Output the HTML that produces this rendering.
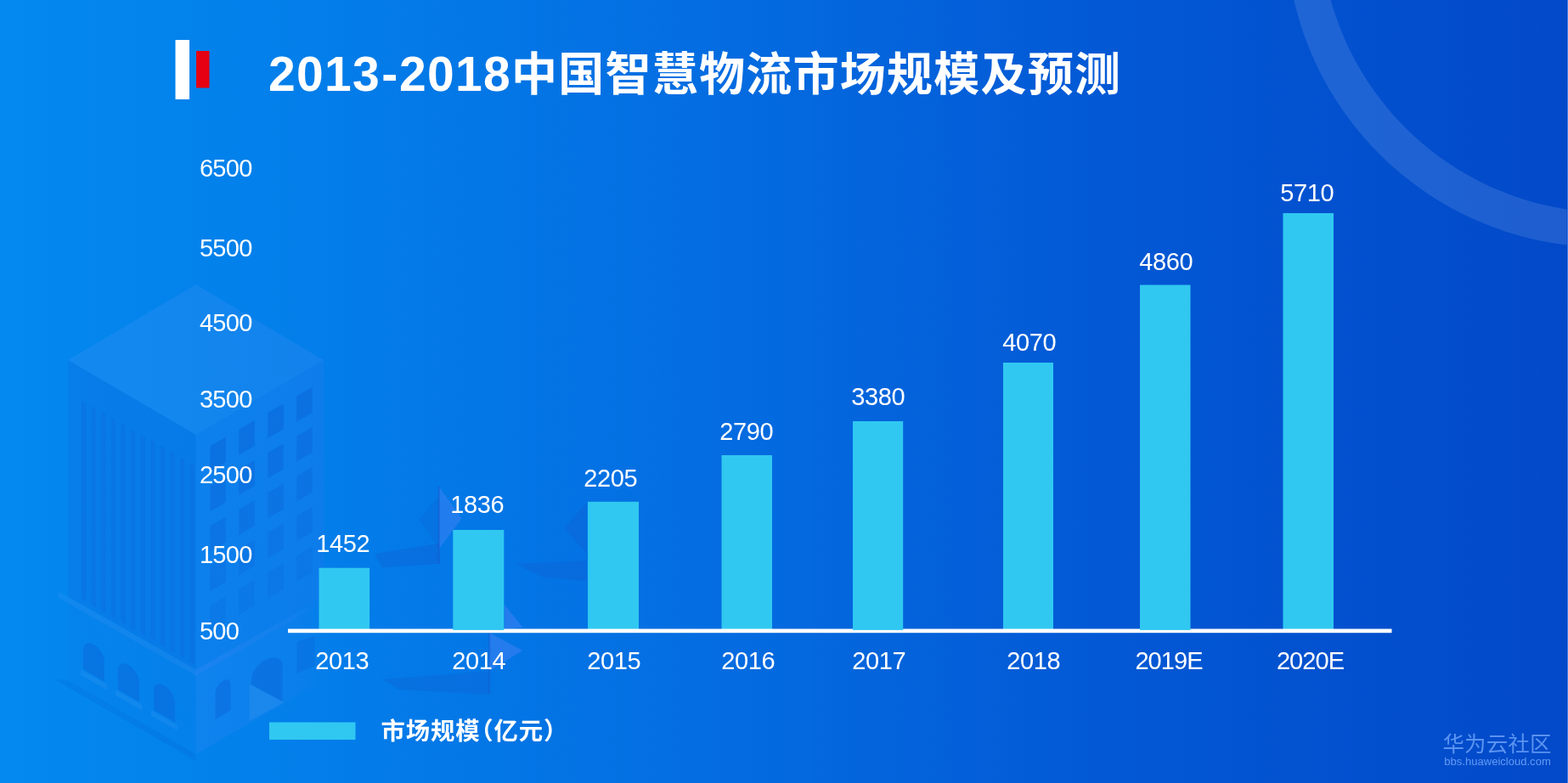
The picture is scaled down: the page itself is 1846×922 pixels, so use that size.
<!DOCTYPE html>
<html lang="zh-CN">
<head>
<meta charset="utf-8">
<title>2013-2018中国智慧物流市场规模及预测</title>
<style>
html,body{margin:0;padding:0;background:#0451cf;}
body{width:1846px;height:922px;overflow:hidden;}
#stage{position:relative;width:1846px;height:922px;overflow:hidden;
  background:linear-gradient(90deg,#0389ef 0%,#037eea 20%,#046de1 45%,#0359d5 70%,#0249c9 100%);
  font-family:"Liberation Sans","Noto Sans CJK SC",sans-serif;color:#fff;}
#art{position:absolute;left:0;top:0;width:1846px;height:922px;}
.t{position:absolute;white-space:nowrap;line-height:1;margin:0;}
.ttl{left:316.1px;top:60.6px;font-size:54px;font-weight:700;letter-spacing:1.25px;}
.ttl .n{font-size:57px;letter-spacing:1.3px;line-height:0;}
.ttl .h{font-size:57px;letter-spacing:0;line-height:0;margin-left:1.2px;margin-right:1.6px;}
.yl{left:234.9px;font-size:29px;letter-spacing:-0.7px;margin-top:0.4px;}
.vl{font-size:29px;width:80px;text-align:center;letter-spacing:-0.4px;text-indent:-0.4px;margin-top:0.4px;}
.xl{font-size:29px;width:100px;text-align:center;letter-spacing:-0.35px;text-indent:-0.35px;margin-top:0.4px;}
.xl.e{letter-spacing:-0.9px;text-indent:-0.9px;}
.lg{left:448.5px;top:846.8px;font-size:28.4px;font-weight:700;letter-spacing:0.85px;}
.lg .p{font-feature-settings:"halt" 1;}
.wm1{left:1698.4px;top:863.8px;font-size:25.5px;font-weight:400;letter-spacing:0.15px;color:rgba(125,175,255,.72);}
.wm2{left:1700.3px;top:890.4px;font-size:13.05px;color:rgba(125,175,255,.78);}
</style>
</head>
<body>
<div id="stage">
<svg id="art" viewBox="0 0 1846 922" width="1846" height="922">
<defs>
    <linearGradient id="tr" x1="0" y1="0" x2="0" y2="1"><stop offset="0" stop-color="#7078f8" stop-opacity="0.10"/><stop offset="1" stop-color="#6068f0" stop-opacity="0.09"/></linearGradient>
    <linearGradient id="pl" x1="0" y1="0" x2="0" y2="1"><stop offset="0" stop-color="#2a50d0" stop-opacity="0.06"/><stop offset="0.6" stop-color="#2a50d0" stop-opacity="0.05"/><stop offset="1" stop-color="#2a50d0" stop-opacity="0.02"/></linearGradient>
    <linearGradient id="pr" x1="0" y1="0" x2="1" y2="0"><stop offset="0" stop-color="#8088ff" stop-opacity="0.10"/><stop offset="0.7" stop-color="#8088ff" stop-opacity="0.06"/><stop offset="1" stop-color="#8088ff" stop-opacity="0"/></linearGradient>
  </defs>
  <g id="bld">
<polygon points="64.0,800.0 230.5,896.0 230.5,888.0 80.0,801.0" fill="#0a4fc8" fill-opacity="0.14"/>
<polygon points="80,703 230.5,789 230.5,888 80,801" fill="url(#pl)"/>
<polygon points="230.5,789 392,697 392,795 230.5,888" fill="url(#pr)"/>
<polygon points="80.0,424.0 230.5,512.0 230.5,789.0 80.0,702.0" fill="#2a48c8" fill-opacity="0.13"/>
<polygon points="230.5,512 381,424 381,702 230.5,789" fill="url(#tr)"/>
<polygon points="230.5,335.0 381.0,424.0 230.5,512.0 80.0,424.0" fill="#a0a8ff" fill-opacity="0.105"/>
<polygon points="96.0,471.2 101.2,474.2 101.2,708.2 96.0,705.2" fill="#1a3cc0" fill-opacity="0.1"/>
<polygon points="107.6,477.9 112.8,480.9 112.8,714.9 107.6,711.9" fill="#1a3cc0" fill-opacity="0.1"/>
<polygon points="119.2,484.6 124.4,487.6 124.4,721.6 119.2,718.6" fill="#1a3cc0" fill-opacity="0.1"/>
<polygon points="130.8,491.3 136.0,494.3 136.0,728.3 130.8,725.3" fill="#1a3cc0" fill-opacity="0.1"/>
<polygon points="142.4,498.0 147.6,501.0 147.6,735.0 142.4,732.0" fill="#1a3cc0" fill-opacity="0.1"/>
<polygon points="154.0,504.7 159.2,507.7 159.2,741.7 154.0,738.7" fill="#1a3cc0" fill-opacity="0.1"/>
<polygon points="165.6,511.4 170.8,514.4 170.8,748.4 165.6,745.4" fill="#1a3cc0" fill-opacity="0.1"/>
<polygon points="177.2,518.1 182.4,521.1 182.4,755.1 177.2,752.1" fill="#1a3cc0" fill-opacity="0.1"/>
<polygon points="188.8,524.8 194.0,527.8 194.0,761.8 188.8,758.8" fill="#1a3cc0" fill-opacity="0.1"/>
<polygon points="200.4,531.5 205.6,534.5 205.6,768.5 200.4,765.5" fill="#1a3cc0" fill-opacity="0.1"/>
<polygon points="212.0,538.2 217.2,541.2 217.2,775.2 212.0,772.2" fill="#1a3cc0" fill-opacity="0.1"/>
<polygon points="223.6,544.9 228.8,547.9 228.8,781.9 223.6,778.9" fill="#1a3cc0" fill-opacity="0.1"/>
<polygon points="247.2,525.3 265.8,514.6 265.8,544.6 247.2,555.3" fill="#0a63d6" fill-opacity="0.5"/>
<polygon points="281.2,505.7 299.8,495.0 299.8,525.0 281.2,535.7" fill="#0a63d6" fill-opacity="0.5"/>
<polygon points="315.2,486.1 333.8,475.4 333.8,505.4 315.2,516.1" fill="#0a63d6" fill-opacity="0.5"/>
<polygon points="349.2,466.5 367.8,455.8 367.8,485.8 349.2,496.5" fill="#0a63d6" fill-opacity="0.5"/>
<polygon points="247.2,572.3 265.8,561.6 265.8,591.6 247.2,602.3" fill="#0a63d6" fill-opacity="0.45"/>
<polygon points="281.2,552.7 299.8,542.0 299.8,572.0 281.2,582.7" fill="#0a63d6" fill-opacity="0.45"/>
<polygon points="315.2,533.1 333.8,522.4 333.8,552.4 315.2,563.1" fill="#0a63d6" fill-opacity="0.45"/>
<polygon points="349.2,513.5 367.8,502.8 367.8,532.8 349.2,543.5" fill="#0a63d6" fill-opacity="0.45"/>
<polygon points="247.2,619.3 265.8,608.6 265.8,638.6 247.2,649.3" fill="#0a63d6" fill-opacity="0.38"/>
<polygon points="281.2,599.7 299.8,589.0 299.8,619.0 281.2,629.7" fill="#0a63d6" fill-opacity="0.38"/>
<polygon points="315.2,580.1 333.8,569.4 333.8,599.4 315.2,610.1" fill="#0a63d6" fill-opacity="0.38"/>
<polygon points="349.2,560.5 367.8,549.8 367.8,579.8 349.2,590.5" fill="#0a63d6" fill-opacity="0.38"/>
<polygon points="247.2,666.3 265.8,655.6 265.8,685.6 247.2,696.3" fill="#0a63d6" fill-opacity="0.3"/>
<polygon points="281.2,646.7 299.8,636.0 299.8,666.0 281.2,676.7" fill="#0a63d6" fill-opacity="0.3"/>
<polygon points="315.2,627.1 333.8,616.4 333.8,646.4 315.2,657.1" fill="#0a63d6" fill-opacity="0.3"/>
<polygon points="349.2,607.5 367.8,596.8 367.8,626.8 349.2,637.5" fill="#0a63d6" fill-opacity="0.3"/>
<polygon points="247.2,713.3 265.8,702.6 265.8,732.6 247.2,743.3" fill="#0a63d6" fill-opacity="0.22"/>
<polygon points="281.2,693.7 299.8,683.0 299.8,713.0 281.2,723.7" fill="#0a63d6" fill-opacity="0.22"/>
<polygon points="315.2,674.1 333.8,663.4 333.8,693.4 315.2,704.1" fill="#0a63d6" fill-opacity="0.22"/>
<polygon points="349.2,654.5 367.8,643.8 367.8,673.8 349.2,684.5" fill="#0a63d6" fill-opacity="0.22"/>
<polygon points="68.6,696.5 231.4,788.5 231.4,796.0 68.6,704.0" fill="#b0c0ff" fill-opacity="0.075"/>
<polygon points="230.5,788.5 392,696.5 392,703 230.5,796" fill="url(#pr)"/>
<path d="M98.0,788.0 L98.0,766.0 C98.0,747.2 123.0,761.7 123.0,780.4 L123.0,802.4 Z" fill="#0a5fd2" fill-opacity="0.38"/>
<polygon points="95.0,788.0 126.0,805.7 126.0,812.2 95.0,795.0" fill="#ffffff" fill-opacity="0.05"/>
<path d="M139.0,812.0 L139.0,790.0 C139.0,771.2 164.0,785.7 164.0,804.4 L164.0,826.4 Z" fill="#0a5fd2" fill-opacity="0.38"/>
<polygon points="136.0,812.0 167.0,829.7 167.0,836.2 136.0,819.0" fill="#ffffff" fill-opacity="0.05"/>
<path d="M181.0,836.0 L181.0,814.0 C181.0,795.2 206.0,809.7 206.0,828.4 L206.0,850.4 Z" fill="#0a5fd2" fill-opacity="0.38"/>
<polygon points="178.0,836.0 209.0,853.7 209.0,860.2 178.0,843.0" fill="#ffffff" fill-opacity="0.05"/>
<path d="M253.5,847.0 L253.5,817.0 C253.5,803.5 271.5,793.1 271.5,806.6 L271.5,836.6 Z" fill="#0a5fd2" fill-opacity="0.38"/>
<path d="M296,806 L296,800 C298,778 326,768 332.5,780 L332.5,826 Z" fill="#0a5fd2" fill-opacity="0.4"/>
<polygon points="293.5,805.5 334.7,827.0 293.5,849.0" fill="#ffffff" fill-opacity="0.06"/>
<polygon points="349.5,756.0 370.5,749.0 370.5,784.0 349.5,793.0" fill="#0a5fd2" fill-opacity="0.3"/>
<polygon points="441.0,652.0 517.0,640.0 517.0,664.0 450.0,668.0" fill="#1a4fc4" fill-opacity="0.22"/>
<polygon points="516.8,584.0 493.0,612.0 516.8,646.0" fill="#1a4fc4" fill-opacity="0.13"/>
<polygon points="516.8,573.0 543.6,610.4 516.8,646.2" fill="#6f8cff" fill-opacity="0.28"/>
<rect x="515.6" y="573" width="2.4" height="91" fill="#1a4fc4" fill-opacity="0.35"/>
<polygon points="607.0,664.0 690.0,660.0 690.0,684.0 640.0,680.0" fill="#1a4fc4" fill-opacity="0.2"/>
<polygon points="690.0,592.5 664.0,622.0 690.0,651.0" fill="#1a4fc4" fill-opacity="0.2"/>
<polygon points="594.0,712.0 615.5,739.0 594.0,741.0" fill="#6f8cff" fill-opacity="0.3"/>
<polygon points="576.2,745.0 615.2,766.0 576.2,790.0" fill="#6f8cff" fill-opacity="0.3"/>
<rect x="575" y="745" width="2.4" height="72" fill="#1a4fc4" fill-opacity="0.3"/>
<polygon points="450.0,800.0 576.0,790.0 576.0,818.0 470.0,812.0" fill="#1a4fc4" fill-opacity="0.2"/>
  </g>
  <!-- ring -->
  <path fill="#e8f0ff" fill-opacity="0.125" fill-rule="evenodd" d="M1889.3,-460 a375.6,375.6 0 1,0 0.01,0 Z M1896.2,-433.6 a342,342 0 1,0 0.01,0 Z"/>
  <rect x="1845" y="0" width="1" height="922" fill="#3f7eef"/>
  <rect x="1844" y="0" width="1" height="922" fill="#0340b8" fill-opacity="0.35"/>
  <!-- title mark -->
  <rect x="206.5" y="47" width="16.5" height="70" fill="#fff"/>
  <rect x="231" y="60" width="15.5" height="43.5" fill="#e60012"/>
  <!-- bars -->
  <g fill="#30c8f1">
    <rect x="375.5" y="668.7" width="59.6" height="73"/>
    <rect x="692" y="590.8" width="60" height="151"/>
    <rect x="849.5" y="536" width="59.5" height="206"/>
    <rect x="1181" y="427" width="59" height="315"/>
    <rect x="1510.5" y="251" width="59.5" height="491"/>
    <rect x="317" y="850.5" width="101.5" height="20.5"/>
  </g>
  <rect x="339" y="740.5" width="1299.5" height="4.7" fill="#fff"/>
  <g fill="#30c8f1">
    <rect x="533.3" y="624" width="60" height="117.9"/>
    <rect x="1004" y="496" width="59.2" height="245.9"/>
    <rect x="1342" y="335.5" width="59.5" height="406.4"/>
  </g>
</svg>
<h1 class="t ttl"><span class="n">2013</span><span class="h">-</span><span class="n">2018</span>中国智慧物流市场规模及预测</h1>
<div class="t yl" style="top:184px">6500</div>
<div class="t yl" style="top:278px">5500</div>
<div class="t yl" style="top:366px">4500</div>
<div class="t yl" style="top:456px">3500</div>
<div class="t yl" style="top:545px">2500</div>
<div class="t yl" style="top:639px">1500</div>
<div class="t yl" style="top:729px">500</div>

<div class="t vl" style="left:364px;top:626px">1452</div>
<div class="t vl" style="left:522px;top:580px">1836</div>
<div class="t vl" style="left:679px;top:549px">2205</div>
<div class="t vl" style="left:839px;top:494px">2790</div>
<div class="t vl" style="left:994px;top:453px">3380</div>
<div class="t vl" style="left:1172px;top:389px">4070</div>
<div class="t vl" style="left:1333px;top:294px">4860</div>
<div class="t vl" style="left:1499px;top:213px">5710</div>

<div class="t xl" style="left:353px;top:764px">2013</div>
<div class="t xl" style="left:514px;top:764px">2014</div>
<div class="t xl" style="left:673px;top:764px">2015</div>
<div class="t xl" style="left:831px;top:764px">2016</div>
<div class="t xl" style="left:985px;top:764px">2017</div>
<div class="t xl" style="left:1167px;top:764px">2018</div>
<div class="t xl e" style="left:1326.5px;top:764px">2019E</div>
<div class="t xl e" style="left:1493px;top:764px">2020E</div>

<div class="t lg">市场规模<span class="p" style="margin-left:1px">（</span>亿元<span class="p">）</span></div>
<div class="t wm1">华为云社区</div>
<div class="t wm2">bbs.huaweicloud.com</div>
</div>
</body>
</html>
